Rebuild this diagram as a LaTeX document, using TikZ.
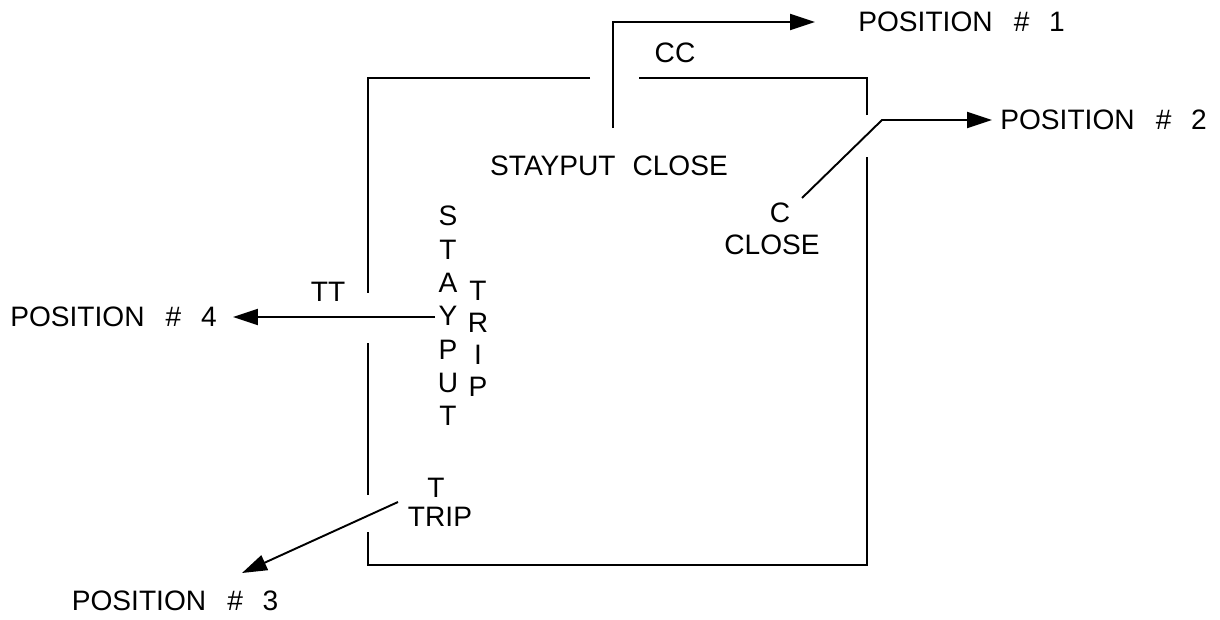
\documentclass[tikz,border=0pt]{standalone}
\usepackage{fontspec}
\setmainfont{Liberation Sans}
\usetikzlibrary{arrows.meta}

\tikzset{
  wire/.style={line width=1.1pt},
  tag/.style={font=\fontsize{16}{19}\selectfont, inner sep=0pt},
  pointer/.style={wire, -{Triangle[length=0.5cm,width=0.32cm]}}
}
\newcommand{\posnum}[1]{POSITION\hspace{0.75em}\#\hspace{0.7em}#1}

\begin{document}
\begin{tikzpicture}[x=0.02cm,y=-0.02cm]
\useasboundingbox (0,0) rectangle (1220,619);

% box outline
\draw[wire] (590,78) -- (368,78) -- (368,293);
\draw[wire] (368,343) -- (368,495);
\draw[wire] (368,532) -- (368,565) -- (867,565) -- (867,157);
\draw[wire] (867,115) -- (867,78) -- (639,78);

% labels
\node[tag] (cc) at (675,53) {CC};
\node[tag] (sclose) at (609,166) {STAYPUT\hspace{0.6em}CLOSE};
\node[tag] (c) at (780,213) {C};
\node[tag] (close) at (772,245) {CLOSE};
\node[tag] (tt) at (328,292) {TT};
\node[tag] (t) at (436,488) {T};
\node[tag] (trip) at (440,517) {TRIP};
\foreach \l [count=\i] in {S,T,A,Y,P,U,T}
  \node[tag] (stay\i) at (448,183+33.3*\i) {\l};
\foreach \l [count=\i] in {T,R,I,P}
  \node[tag] (tr\i) at (478,259+32*\i) {\l};

\node[tag,anchor=west] (pos1) at (858,22) {\posnum{1}};
\node[tag,anchor=west] (pos2) at (1000,120) {\posnum{2}};
\node[tag] (pos3) at (175,601) {\posnum{3}};
\node[tag,anchor=east] (pos4) at (217,317) {\posnum{4}};

% arrows
\coordinate (cc0) at (613,128);
\coordinate (c0) at (802,198);
\coordinate (c1) at (882,120);
\coordinate (t0) at (398,502);
\coordinate (t1) at (242,573);
\coordinate (y4) at (435,317);
\draw[pointer,shorten >=0.86cm] (cc0) |- (pos1.west);
\draw[pointer,shorten >=0.16cm] (c0) -- (c1) -- (pos2.west);
\draw[pointer] (t0) -- (t1);
\draw[pointer,shorten >=0.32cm] (y4) -- (pos4.east);
\end{tikzpicture}
\end{document}
